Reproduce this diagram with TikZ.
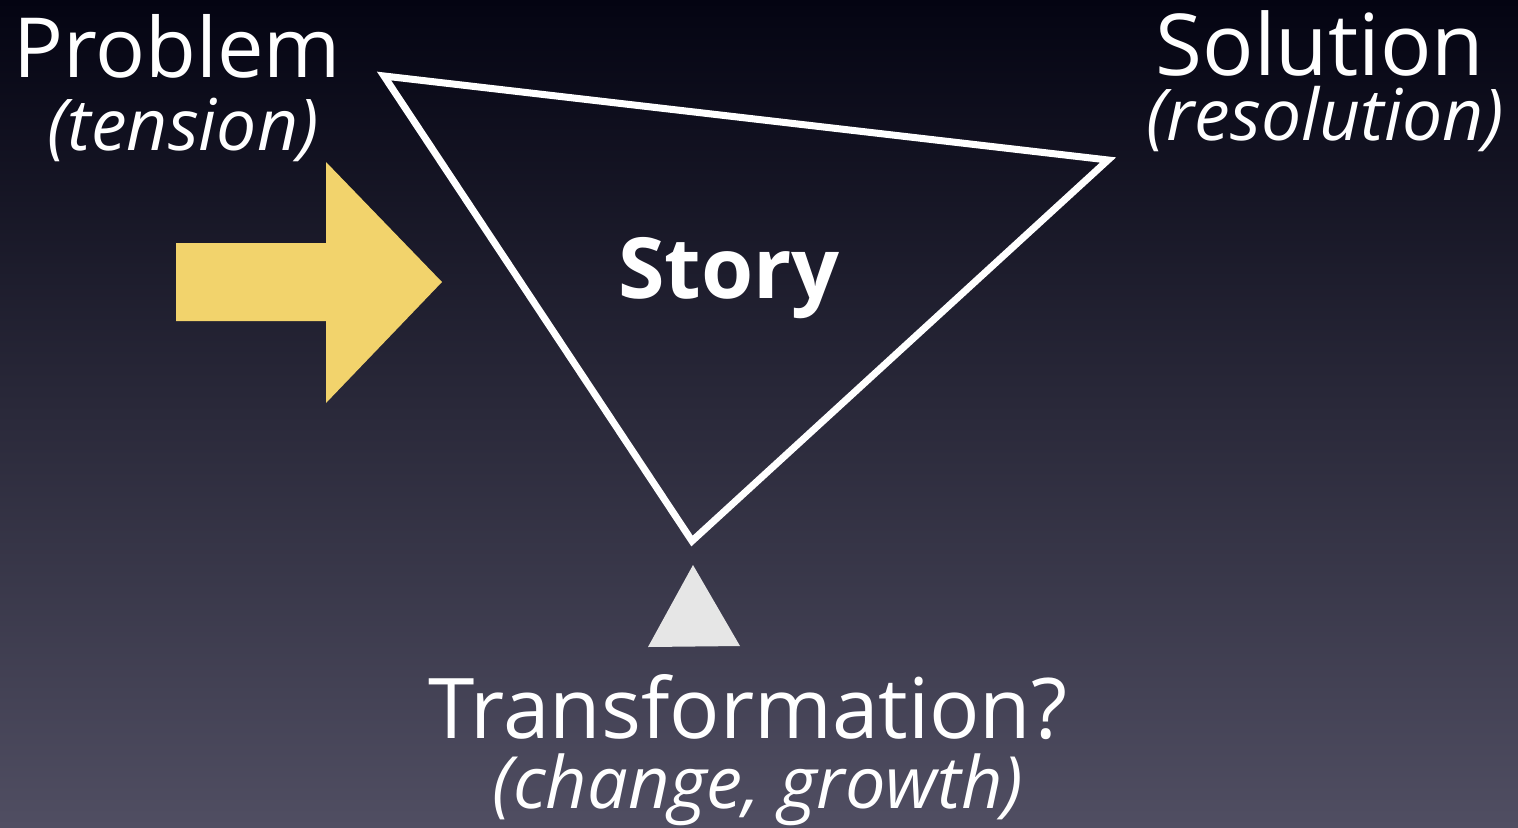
\documentclass[tikz,border=0pt]{standalone}
\usepackage{fontspec}
\setmainfont{Open Sans}
\usetikzlibrary{positioning}
\definecolor{bgtop}{RGB}{4,4,18}
\definecolor{bgmid}{RGB}{30,30,52}
\definecolor{bgbot}{RGB}{80,78,98}
\definecolor{arrowyellow}{RGB}{242,211,108}
\definecolor{markgray}{RGB}{230,230,230}
\begin{document}
\begin{tikzpicture}[x=0.01cm,y=-0.01cm,
	bigtext/.style={text=white,inner sep=0pt,anchor=base,font=\fontsize{23.6}{26}\selectfont},
	subtext/.style={text=white,inner sep=0pt,anchor=base,font=\fontsize{20.3}{24}\selectfont\itshape}]
	\shade[top color=bgtop,middle color=bgmid,bottom color=bgbot] (0,0) rectangle (1518,827);
	\useasboundingbox (0,0) rectangle (1518,827);
	\coordinate (p1) at (384,76);
	\coordinate (p2) at (1108,160);
	\coordinate (p3) at (692,541);
	\draw[white,line width=2pt] (p1) -- (p2) -- (p3) -- cycle;
	\fill[arrowyellow] (176,243) -- (326,243) -- (326,162) -- (442,282) -- (326,403) -- (326,321) -- (176,321) -- cycle;
	\fill[markgray] (693,565) -- (740,646) -- (648,647) -- cycle;
	\node[bigtext] (problem) at (177,77) {Problem};
	\node[subtext] (tension) at (183,150) {(tension)};
	\node[bigtext,font=\fontsize{24.3}{27}\selectfont] (solution) at (1320,75) {Solution};
	\node[subtext] (resolution) at (1325,140) {(resolution)};
	\node[bigtext,font=\fontsize{24}{28}\selectfont\bfseries] (story) at (729,298) {Story};
	\node[bigtext,font=\fontsize{23.8}{27}\selectfont] (transformation) at (748,738) {Transformation?};
	\node[subtext,font=\fontsize{20.5}{24}\selectfont\itshape] (change) at (758,808) {(change, growth)};
\end{tikzpicture}
\end{document}
